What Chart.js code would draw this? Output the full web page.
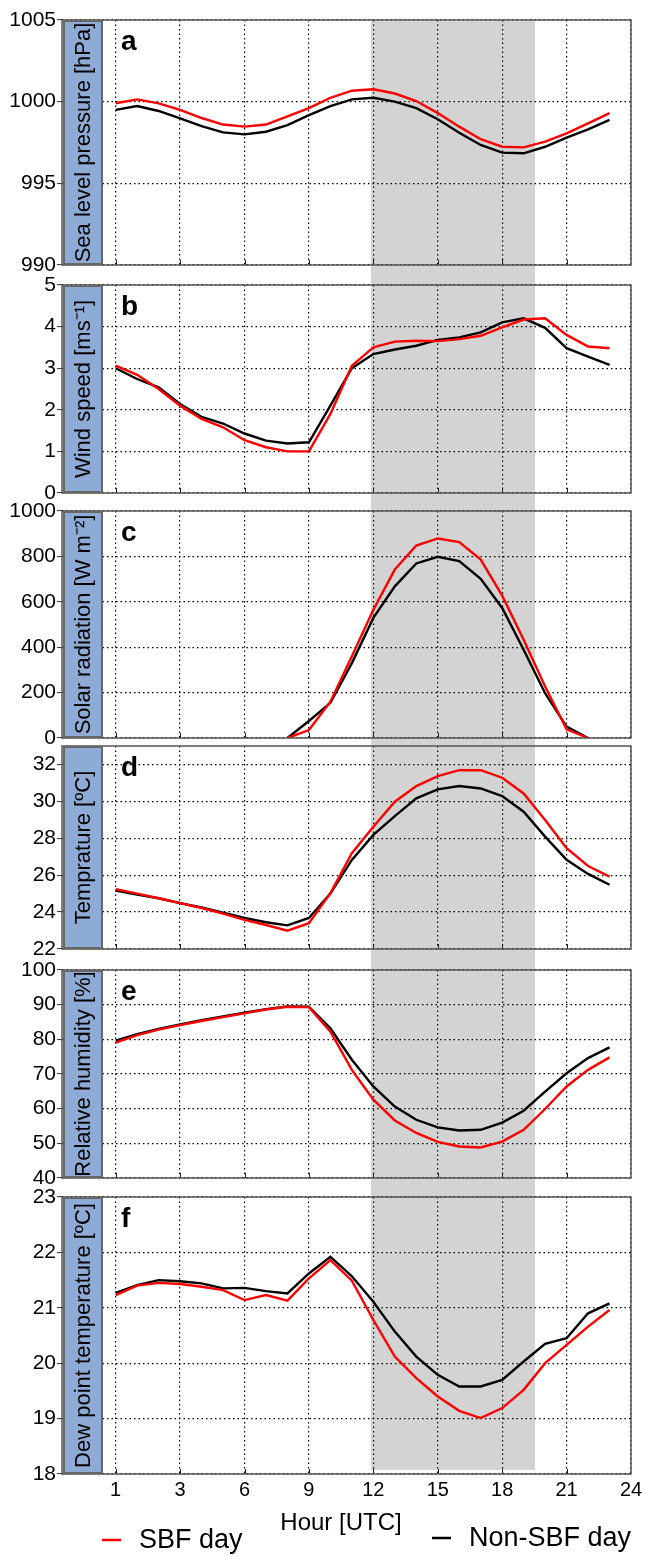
<!DOCTYPE html>
<html>
<head>
<meta charset="utf-8">
<script src="https://cdn.jsdelivr.net/npm/chart.js@4.4.1/dist/chart.umd.min.js"></script>
<style>
  html, body { margin: 0; padding: 0; background: #fff; }
  #wrap { position: relative; width: 646px; height: 1556px; overflow: hidden; }
  #wrap canvas { position: absolute; left: 0; }
  #sbf { position: absolute; background: #d3d3d3; }
</style>
</head>
<body>
<div id="wrap"><div id="sbf"></div></div>
<script>
// hourly slots; the first tick of the original figure is labelled "1"
const hours = [0, 1, 2, 3, 4, 5, 6, 7, 8, 9, 10, 11, 12, 13, 14, 15, 16, 17, 18, 19, 20, 21, 22, 23];
const xTicks = [0, 3, 6, 9, 12, 15, 18, 21, 24];
const xTickLabels = ['1', '3', '6', '9', '12', '15', '18', '21', '24'];
const sbfWindow = [11.9, 19.55];   // shaded SBF period (hour slots)

const seriesNames = ['SBF day', 'Non-SBF day'];

// a - sea level pressure [hPa]
const pressureTicks = [990, 995, 1000, 1005];
const pressureSBF = [999.9, 1000.14, 999.9, 999.5, 999.0, 998.6, 998.47, 998.6, 999.1, 999.6, 1000.24, 1000.67,
  1000.76, 1000.5, 1000.04, 999.3, 998.47, 997.7, 997.24, 997.2, 997.55, 998.06, 998.67, 999.3];
const pressureNon = [999.5, 999.73, 999.43, 998.98, 998.5, 998.12, 998.0, 998.16, 998.57, 999.18, 999.73, 1000.14,
  1000.24, 1000.0, 999.6, 998.92, 998.1, 997.35, 996.88, 996.84, 997.24, 997.8, 998.3, 998.88];

// b - wind speed [m/s]
const windTicks = [0, 1, 2, 3, 4, 5];
const windSBF = [3.06, 2.84, 2.5, 2.1, 1.78, 1.58, 1.27, 1.1, 1.0, 1.0, 1.9, 3.06,
  3.5, 3.64, 3.66, 3.65, 3.7, 3.78, 3.98, 4.17, 4.2, 3.8, 3.52, 3.48];
const windNon = [3.0, 2.74, 2.54, 2.14, 1.83, 1.67, 1.43, 1.26, 1.19, 1.22, 2.1, 3.0,
  3.34, 3.45, 3.54, 3.68, 3.74, 3.86, 4.1, 4.2, 3.97, 3.48, 3.28, 3.08];

// c - solar radiation [W m-2]
const solarTicks = [0, 200, 400, 600, 800, 1000];
const solarSBF = [null, null, null, null, null, null, null, null, 0, 35, 160, 360,
  565, 742, 848, 879, 863, 786, 627, 433, 227, 38, 0, null];
const solarNon = [null, null, null, null, null, null, null, null, 0, 75, 155, 330,
  529, 668, 769, 798, 779, 701, 573, 389, 197, 50, 0, null];

// d - temperature [C]
const tempTicks = [22, 24, 26, 28, 30, 32];
const tempSBF = [25.24, 25.0, 24.75, 24.49, 24.22, 23.92, 23.58, 23.3, 22.99, 23.4, 25.03, 27.19,
  28.63, 29.98, 30.83, 31.37, 31.69, 31.69, 31.28, 30.43, 28.99, 27.46, 26.5, 25.92];
const tempNon = [25.17, 24.95, 24.75, 24.49, 24.25, 23.97, 23.68, 23.45, 23.28, 23.68, 25.0, 26.83,
  28.18, 29.2, 30.16, 30.65, 30.83, 30.7, 30.29, 29.44, 28.09, 26.83, 26.07, 25.48];

// e - relative humidity [%]
const rhTicks = [40, 50, 60, 70, 80, 90, 100];
const rhSBF = [79.06, 81.2, 82.8, 84.1, 85.3, 86.4, 87.5, 88.6, 89.4, 89.3, 82.2, 71.2,
  62.6, 56.6, 53.0, 50.4, 49.1, 48.8, 50.5, 53.9, 59.9, 66.4, 71.2, 74.8];
const rhNon = [79.6, 81.5, 83.0, 84.3, 85.5, 86.6, 87.7, 88.7, 89.5, 89.4, 83.2, 74.1,
  66.4, 60.6, 56.8, 54.6, 53.7, 53.9, 56.0, 59.4, 64.9, 70.2, 74.6, 77.7];

// f - dew point temperature [C]
const dewTicks = [18, 19, 20, 21, 22, 23];
const dewSBF = [21.23, 21.4, 21.45, 21.43, 21.38, 21.32, 21.14, 21.23, 21.13, 21.53, 21.86, 21.49,
  20.78, 20.12, 19.73, 19.4, 19.14, 19.01, 19.19, 19.52, 20.0, 20.33, 20.66, 20.96];
const dewNon = [21.27, 21.41, 21.5, 21.48, 21.44, 21.35, 21.36, 21.3, 21.26, 21.62, 21.92, 21.57,
  21.11, 20.57, 20.12, 19.79, 19.58, 19.58, 19.7, 20.03, 20.35, 20.45, 20.9, 21.08];

const FONT = '"Liberation Sans", Arial, Helvetica, sans-serif';

// panel setup: top/bottom are the frame edges on the page
const panels = [
  { letter: 'a', title: 'Sea level pressure [hPa]', min: 990, max: 1005, ticks: pressureTicks, sbf: pressureSBF, non: pressureNon, top: 20, bottom: 265 },
  { letter: 'b', title: 'Wind speed [ms\u207B\u00B9]', min: 0, max: 5, ticks: windTicks, sbf: windSBF, non: windNon, top: 285, bottom: 493 },
  { letter: 'c', title: 'Solar radiation [W m\u207B\u00B2]', min: 0, max: 1000, ticks: solarTicks, sbf: solarSBF, non: solarNon, top: 511, bottom: 738 },
  { letter: 'd', title: 'Temprature [\u00BAC]', min: 22, max: 33, ticks: tempTicks, sbf: tempSBF, non: tempNon, top: 746, bottom: 949 },
  { letter: 'e', title: 'Relative humidity [%]', min: 40, max: 100, ticks: rhTicks, sbf: rhSBF, non: rhNon, top: 970, bottom: 1178 },
  { letter: 'f', title: 'Dew point temperature [\u00BAC]', min: 18, max: 23, ticks: dewTicks, sbf: dewSBF, non: dewNon, top: 1197, bottom: 1474 }
];

// frame, inward x ticks, blue label box and panel letter
const panelDecor = {
  id: 'panelDecor',
  afterDraw(chart, args, opts) {
    const { ctx, chartArea: a, scales: { x } } = chart;
    ctx.save();
    // inward tick marks on the bottom edge
    ctx.strokeStyle = '#222';
    ctx.lineWidth = 1;
    x.ticks.forEach(t => {
      if (t.value >= 24) return;
      const px = Math.round(x.getPixelForValue(t.value)) + 0.5;
      ctx.beginPath();
      ctx.moveTo(px, a.bottom);
      ctx.lineTo(px, a.bottom - 5);
      ctx.stroke();
    });
    // frame
    ctx.strokeStyle = '#555';
    ctx.lineWidth = 1.5;
    ctx.strokeRect(a.left, a.top, a.right - a.left, a.bottom - a.top);
    // label box
    const bx = a.left + 2, bw = 38;
    ctx.fillStyle = '#8eabd6';
    ctx.fillRect(bx, a.top + 1, bw, a.bottom - a.top - 2);
    ctx.strokeStyle = '#676767';
    ctx.lineWidth = 2;
    ctx.strokeRect(bx, a.top + 1, bw, a.bottom - a.top - 2);
    ctx.fillStyle = '#000';
    ctx.font = '22px ' + FONT;
    ctx.textAlign = 'center';
    ctx.textBaseline = 'middle';
    ctx.translate(bx + bw / 2 + 1, (a.top + a.bottom) / 2);
    ctx.rotate(-Math.PI / 2);
    ctx.fillText(opts.title, 0, 0);
    ctx.restore();
    // panel letter
    ctx.save();
    ctx.fillStyle = '#000';
    ctx.font = 'bold 28px ' + FONT;
    ctx.textAlign = 'left';
    ctx.textBaseline = 'alphabetic';
    ctx.fillText(opts.letter, a.left + 59, a.top + 30);
    ctx.restore();
  }
};

// x-axis title and legend under the last panel
const footer = {
  id: 'footer',
  afterDraw(chart) {
    const { ctx, chartArea: a } = chart;
    ctx.save();
    ctx.fillStyle = '#000';
    ctx.textBaseline = 'middle';
    ctx.textAlign = 'center';
    ctx.font = '24px ' + FONT;
    ctx.fillText('Hour [UTC]', 341, a.bottom + 49);
    const items = [
      { ds: chart.data.datasets[0], x: 102, y: a.bottom + 66 },
      { ds: chart.data.datasets[1], x: 432, y: a.bottom + 64 }
    ];
    ctx.font = '27px ' + FONT;
    ctx.textAlign = 'left';
    items.forEach(it => {
      ctx.strokeStyle = it.ds.borderColor;
      ctx.lineWidth = 2.5;
      ctx.beginPath();
      ctx.moveTo(it.x, it.y);
      ctx.lineTo(it.x + 19, it.y);
      ctx.stroke();
      ctx.fillText(it.ds.label, it.x + 37, it.y + 1);
    });
    ctx.restore();
  }
};

const wrap = document.getElementById('wrap');
const charts = panels.map((p, i) => {
  const last = i === panels.length - 1;
  const padTop = 20;
  const padBottom = last ? 0 : 20;
  const xHeight = last ? 1556 - p.bottom : 0;
  const canvas = document.createElement('canvas');
  const top = p.top - padTop;
  const height = last ? 1556 - top : (p.bottom - p.top) + padTop + padBottom;
  canvas.width = 646;
  canvas.height = height;
  canvas.style.top = top + 'px';
  canvas.style.width = '646px';
  canvas.style.height = height + 'px';
  wrap.appendChild(canvas);

  return new Chart(canvas, {
    type: 'line',
    data: {
      labels: hours,
      datasets: [
        { label: seriesNames[0], data: hours.map((h, k) => ({ x: h, y: p.sbf[k] })), borderColor: '#ff0000', borderWidth: 2.4, pointRadius: 0, tension: 0, spanGaps: false },
        { label: seriesNames[1], data: hours.map((h, k) => ({ x: h, y: p.non[k] })), borderColor: '#000000', borderWidth: 2.4, pointRadius: 0, tension: 0, spanGaps: false }
      ]
    },
    options: {
      responsive: false,
      animation: false,
      devicePixelRatio: 1,
      layout: { padding: { top: padTop, bottom: padBottom, left: 0, right: 15 } },
      plugins: {
        legend: { display: false },
        tooltip: { enabled: false },
        panelDecor: { title: p.title, letter: p.letter }
      },
      scales: {
        x: {
          type: 'linear',
          min: -2.5,
          max: 24,
          afterBuildTicks: s => { s.ticks = xTicks.map(v => ({ value: v })); },
          afterFit: s => { s.height = xHeight; s.paddingLeft = 0; s.paddingRight = 0; },
          grid: { color: '#000', lineWidth: 1.2, drawTicks: false },
          border: { display: false, dash: [1.5, 3] },
          ticks: {
            display: last,
            padding: 4,
            autoSkip: false,
            maxRotation: 0,
            color: '#000',
            font: { family: FONT, size: 20 },
            callback: v => xTickLabels[xTicks.indexOf(v)]
          }
        },
        y: {
          min: p.min,
          max: p.max,
          afterBuildTicks: s => { s.ticks = p.ticks.map(v => ({ value: v })); },
          afterFit: s => { s.width = 62; s.paddingTop = 0; s.paddingBottom = 0; },
          grid: { color: '#000', lineWidth: 1.2, tickColor: '#333', tickLength: 5, tickWidth: 1, tickBorderDash: [] },
          border: { display: false, dash: [1.5, 3] },
          ticks: { padding: 1, color: '#000', font: { family: FONT, size: 21 }, callback: v => String(v) }
        }
      }
    },
    plugins: last ? [panelDecor, footer] : [panelDecor]
  });
});

// shaded SBF window spanning all panels
const xs = charts[0].scales.x;
const shade = document.getElementById('sbf');
const x0 = xs.getPixelForValue(sbfWindow[0]);
const x1 = xs.getPixelForValue(sbfWindow[1]);
shade.style.left = x0 + 'px';
shade.style.width = (x1 - x0) + 'px';
shade.style.top = (panels[0].top + 1) + 'px';
shade.style.height = (panels[panels.length - 1].bottom - 4 - panels[0].top - 1) + 'px';
</script>
</body>
</html>
